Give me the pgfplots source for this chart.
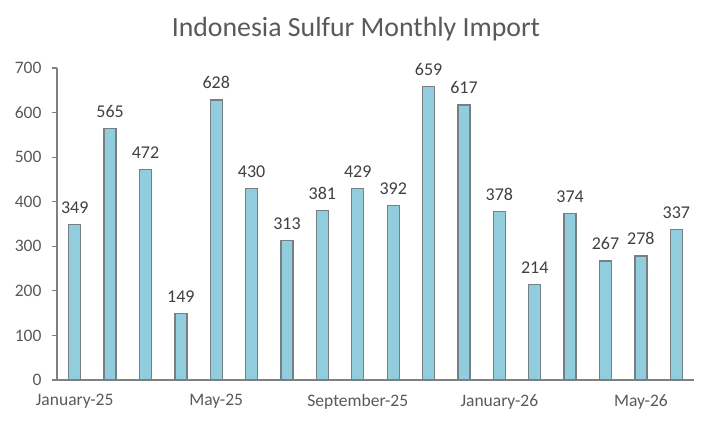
\documentclass[border=0pt]{standalone}
\usepackage{pgfplots}
\pgfplotsset{compat=1.18}
\usepackage{fontspec}
\setmainfont{Carlito}
\definecolor{barfill}{RGB}{146,205,221}
\definecolor{baredge}{RGB}{118,128,132}
\definecolor{axgray}{RGB}{128,128,128}
\definecolor{txt}{RGB}{64,64,64}
\definecolor{ttl}{RGB}{89,89,89}
\begin{document}
\begin{tikzpicture}[x=1pt,y=1pt]
\begin{axis}[
  name=ax,
  scale only axis,
  width=637pt, height=312pt,
  at={(0,0)}, anchor=south west,
  xmin=-0.5, xmax=17.5,
  ymin=0, ymax=700,
  ytick={0,100,...,700},
  xtick={0,4,8,12,16},
  xticklabels={January-25,May-25,September-25,January-26,May-26},
  major x tick style={draw=none},
  extra x ticks={-0.5,3.5,7.5,11.5,15.5},
  extra x tick labels={},
  extra x tick style={tick style={axgray, line width=1.2pt}, major tick length=5pt, tick align=outside},
  axis x line*=bottom,
  axis y line*=left,
  axis line style={axgray, line width=1.2pt},
  y axis line style={-},
  x axis line style={-},
  ytick style={axgray, line width=1.2pt},
  tick align=outside,
  major tick length=5pt,
  tick label style={font=\fontsize{17.5}{20}\selectfont, text=ttl},
  /pgf/number format/assume math mode=true,
  xticklabel style={yshift=-6pt},
  yticklabel style={xshift=-7pt},
  ybar,
  bar width=12pt,
  nodes near coords,
  every node near coord/.append style={font=\fontsize{18}{20}\selectfont, text=txt, yshift=7pt},
  clip=false,
]
\addplot[fill=barfill, draw=baredge, line width=1.3pt] coordinates {
(0,349) (1,565) (2,472) (3,149) (4,628) (5,430) (6,313) (7,381) (8,429)
(9,392) (10,659) (11,617) (12,378) (13,214) (14,374) (15,267) (16,278) (17,337)
};
\end{axis}
\path (-57pt,-43pt) rectangle (647pt,380pt);
\node[font=\fontsize{27.8}{30}\selectfont, text=ttl] at (299pt,351pt) {Indonesia Sulfur Monthly Import};
\end{tikzpicture}
\end{document}
